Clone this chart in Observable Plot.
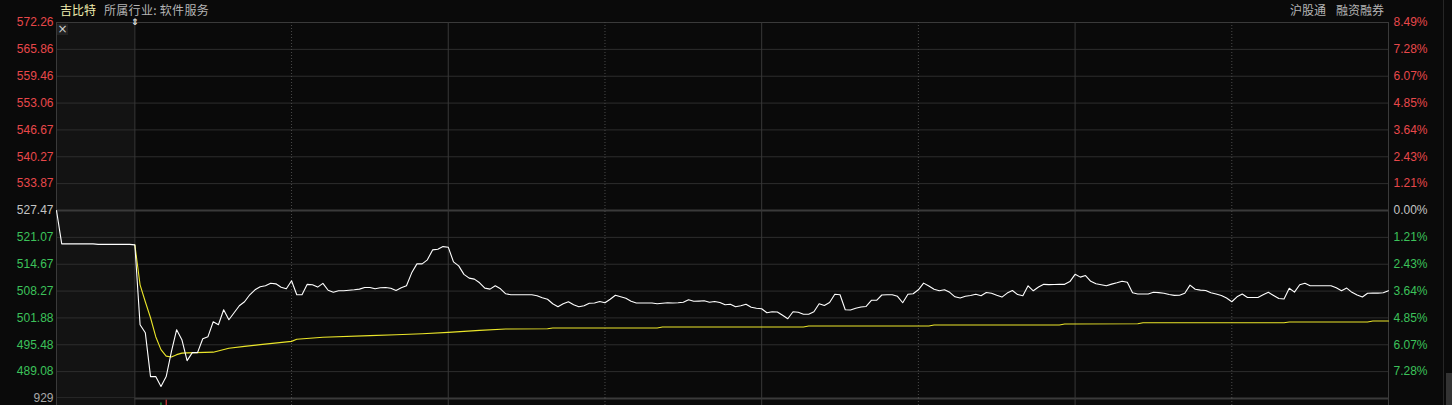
<!DOCTYPE html>
<html><head><meta charset="utf-8">
<script src="https://cdn.jsdelivr.net/npm/d3@7"></script>
<script src="https://cdn.jsdelivr.net/npm/@observablehq/plot@0.6"></script>
<style>
html,body{margin:0;padding:0;background:#0a0a0a;width:1452px;height:405px;overflow:hidden;}
#wrap{position:relative;width:1452px;height:405px;overflow:hidden;}
.hdr{position:absolute;top:2px;font-family:"Noto Sans CJK SC","Noto Sans",sans-serif;font-size:12px;line-height:16px;color:#b4b4b4;white-space:nowrap;}
#main{position:absolute;left:0;top:0;}
#vol{position:absolute;left:0;top:390px;}
#closebox{position:absolute;left:57px;top:24px;width:11px;height:11px;background:#222222;color:#d0d0d0;font:12px "DejaVu Sans",sans-serif;line-height:11px;text-align:center;}
#marker{position:absolute;left:131px;top:18px;height:9px;color:#e8e8e8;font:bold 9px "DejaVu Sans",sans-serif;line-height:9px;}
#sbline{position:absolute;left:1443px;top:0;width:1px;height:405px;background:#262626;}
#sbthumb{position:absolute;left:1446px;top:373px;width:6px;height:32px;background:#333333;}
</style></head>
<body><div id="wrap">
<div class="hdr" style="left:60px;color:#f2eeb0">吉比特</div>
<div class="hdr" style="left:104px;letter-spacing:0.3px">所属行业: 软件服务</div>
<div class="hdr" style="left:1290px">沪股通</div>
<div class="hdr" style="left:1336px">融资融券</div>
<div id="sbline"></div><div id="sbthumb"></div>
</div>
<script>
// ---- data ----
const prevClose = 527.47;
const yMin = 482.68, yMax = 572.26;
const leftTicks = [572.26,565.86,559.46,553.06,546.67,540.27,533.87,527.47,521.07,514.67,508.27,501.88,495.48,489.08];
const rightTicks = ["8.49%","7.28%","6.07%","4.85%","3.64%","2.43%","1.21%","0.00%","1.21%","2.43%","3.64%","4.85%","6.07%","7.28%"];
const volTick = [929];
// call auction 09:15-09:29 (minutes -15..-1)
const auctionPrice = [527.47,519.51,519.51,519.51,519.51,519.51,519.51,519.51,519.39,519.39,519.39,519.39,519.39,519.39,519.39];
// continuous session, minutes 0..240 from 09:30
const price = [
519.27,500.26,498.36,487.90,487.90,485.53,487.90,493.84,499.07,496.70,
491.71,493.61,493.61,496.93,497.41,500.97,500.26,503.83,501.45,503.11,
504.78,505.73,507.39,508.58,509.29,509.53,510.12,510.00,509.17,508.82,
510.72,507.39,507.39,509.88,509.77,509.22,510.12,508.46,507.98,508.34,
508.34,508.46,508.58,508.74,509.12,509.12,508.82,509.05,509.12,508.93,
508.41,509.05,509.53,512.62,514.76,514.76,515.71,518.08,518.25,518.87,
518.73,515.23,514.28,512.26,511.36,511.12,510.24,508.98,508.74,509.53,
508.82,507.63,507.39,507.39,507.39,507.39,507.39,507.15,506.68,506.32,
505.25,504.54,505.25,505.73,505.01,504.54,504.78,505.37,505.42,505.80,
505.49,506.32,507.27,506.91,506.56,505.84,505.42,505.42,505.42,505.42,
505.25,505.37,505.49,505.42,505.49,505.61,506.20,505.84,505.89,505.96,
505.61,505.80,505.56,505.01,505.13,504.54,504.78,505.13,504.42,504.18,
504.06,503.11,503.35,503.28,502.52,501.69,503.35,503.23,502.76,502.76,
503.35,505.25,504.85,505.56,507.51,507.39,503.83,503.75,504.18,504.47,
504.61,506.08,506.08,507.34,507.39,507.39,507.03,505.49,507.51,507.63,
508.58,510.17,509.48,508.70,508.34,508.58,507.98,506.91,506.63,507.03,
507.22,507.51,507.15,507.94,507.75,507.27,506.84,507.79,508.41,507.44,
507.15,509.53,508.34,509.24,509.88,509.81,509.84,509.88,509.88,510.53,
512.26,511.60,511.98,510.60,510.00,509.77,509.53,509.93,510.24,510.60,
510.36,507.86,507.56,507.56,507.56,507.98,507.91,507.75,507.44,507.25,
507.27,507.75,509.69,508.70,508.51,508.41,507.86,507.56,507.20,506.61,
505.73,506.91,507.56,506.75,506.75,506.75,507.39,507.98,507.22,506.49,
506.37,508.93,508.03,509.77,510.12,509.53,509.53,509.53,509.53,509.53,
509.05,508.34,508.98,507.98,507.32,506.87,507.75,507.79,507.79,507.86,508.34];
// average price line
const avgMinute = [0,1,2,3,4,5,6,7,8,9,10,15,18,21,24,30,31,36,45,50,55,60,66,71,79,80,100,101,128,129,152,153,177,178,192,193,220,221,236,237,240];
const avgPrice  = [519.27,509.77,505.73,501.92,497.41,494.32,492.77,492.58,493.13,493.49,493.54,493.72,494.67,495.10,495.51,496.29,496.81,497.29,497.65,497.88,498.12,498.43,498.90,499.24,499.31,499.48,499.48,499.71,499.71,499.95,499.95,500.19,500.19,500.42,500.50,500.73,500.73,500.90,500.90,501.13,501.13];
// volume (only the tallest bars reach the visible strip)
const volMinute = [5, 6];
const volValue = [884, 912];
const volUp = [false, true];
// time grid (minutes from 09:30)
const solidMinutes = [0, 60, 120, 180];
const dottedMinutes = [30, 90, 150, 210];

// ---- build ----
const RED = "#e8484a", GREEN = "#3cc25a", GRAY = "#c4c4c4";
const lineData = auctionPrice.map((p,i)=>({m:i-15,p})).concat(price.map((p,i)=>({m:i,p})));
const avgData = avgMinute.map((m,i)=>({m,p:avgPrice[i]}));
const xScale = {type:"linear", domain:[-15,240]};
const font = {fontFamily:"'Liberation Sans', Arial, sans-serif", fontSize:"12px", background:"transparent", overflow:"visible"};

const main = Plot.plot({
  width:1452, height:400, marginLeft:56, marginRight:64, marginTop:22, marginBottom:2,
  style:font,
  x:{...xScale, axis:null},
  y:{domain:[yMin,yMax], axis:null},
  color:{type:"identity"},
  marks:[
    Plot.rect([0],{x1:-15,x2:0,fill:"#131313"}),
    Plot.ruleY(leftTicks.filter(v=>v!==prevClose),{stroke:"#2e2e2e",strokeWidth:1}),
    Plot.ruleY([prevClose],{stroke:"#3a3a3a",strokeWidth:2}),
    Plot.ruleY([yMax],{stroke:"#3a3a3a",strokeWidth:1}),
    Plot.ruleY([yMin],{stroke:"#3a3a3a",strokeWidth:2}),
    Plot.ruleX(solidMinutes,{stroke:"#383838",strokeWidth:1}),
    Plot.ruleX(dottedMinutes,{stroke:"#4a4a4a",strokeWidth:1,strokeDasharray:"1,2"}),
    Plot.ruleX([-15,240],{stroke:"#3a3a3a",strokeWidth:1}),
    Plot.line(avgData,{x:"m",y:"p",stroke:"#ebe62a",strokeWidth:1.1}),
    Plot.line(lineData,{x:"m",y:"p",stroke:"#ffffff",strokeWidth:1.1}),
    Plot.text(leftTicks,{y:d=>d,text:d=>d.toFixed(2),frameAnchor:"left",textAnchor:"end",dx:-3,
      fill:d=>d>prevClose?RED:(d<prevClose?GREEN:GRAY)}),
    Plot.text(rightTicks.map((t,i)=>({t,i,v:leftTicks[i]})),{y:"v",text:"t",frameAnchor:"right",textAnchor:"start",dx:5,
      fill:d=>d.i<7?RED:(d.i>7?GREEN:GRAY)})
  ]
});
main.id = "main";

const vol = Plot.plot({
  width:1452, height:100, marginLeft:56, marginRight:64, marginTop:8, marginBottom:0,
  style:font,
  x:{...xScale, axis:null},
  y:{domain:[0,929], axis:null},
  color:{type:"identity"},
  marks:[
    Plot.rect([0],{x1:-15,x2:0,fill:"#131313"}),
    Plot.ruleX(solidMinutes,{stroke:"#383838"}),
    Plot.ruleX(dottedMinutes,{stroke:"#4a4a4a",strokeDasharray:"1,2"}),
    Plot.ruleX([-15,240],{stroke:"#3a3a3a"}),
    Plot.ruleX(volMinute.map((m,i)=>({m,v:volValue[i],c:volUp[i]?"#ff4040":"#30c050"})),{x:"m",y1:0,y2:"v",stroke:"c"}),
    Plot.text(volTick,{y:d=>d,text:d=>String(d),frameAnchor:"left",textAnchor:"end",dx:-3,fill:"#a8a8a8"})
  ]
});
vol.id = "vol";

const wrap = document.getElementById("wrap");
wrap.insertBefore(vol, wrap.firstChild);
wrap.insertBefore(main, wrap.firstChild);
const cb = document.createElement("div"); cb.id="closebox"; cb.textContent="×"; wrap.appendChild(cb);
const mk = document.createElement("div"); mk.id="marker"; mk.textContent="⇕"; wrap.appendChild(mk);
</script>
</body></html>
